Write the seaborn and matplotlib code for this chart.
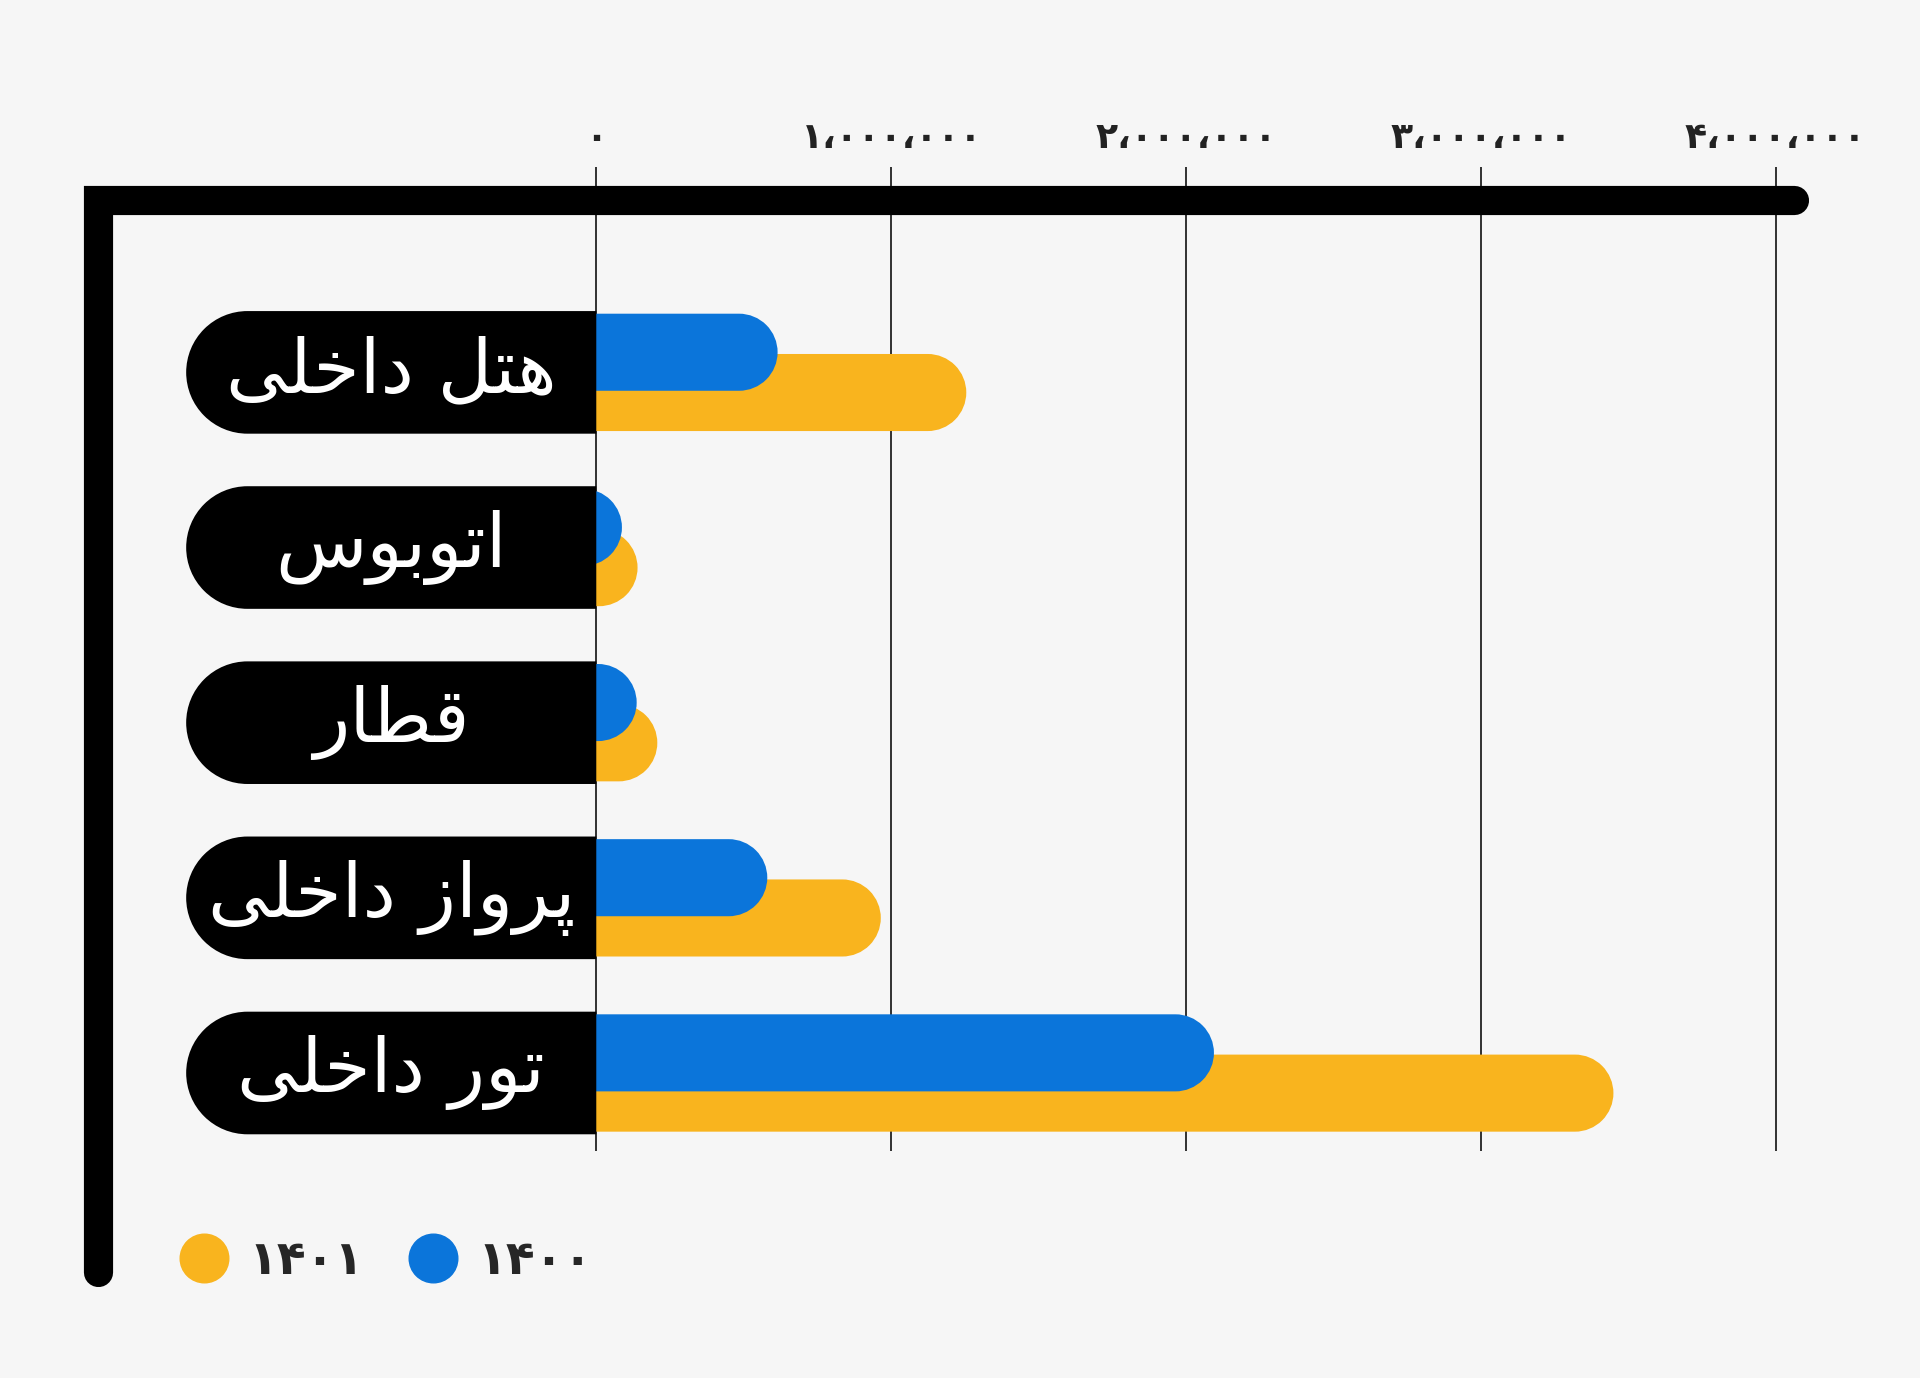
import numpy as np
import pandas as pd
import seaborn as sns
import matplotlib.pyplot as plt
from matplotlib.patches import PathPatch
from matplotlib.path import Path
from matplotlib.lines import Line2D

# DATA
categories = ['هتل داخلی', 'اتوبوس', 'قطار', 'پرواز داخلی', 'تور داخلی']
years = ['۱۴۰۰', '۱۴۰۱']
values_1400 = [615000, 87000, 137000, 580000, 2095000]
values_1401 = [1255000, 140000, 207000, 965000, 3450000]
xticks = [0, 1000000, 2000000, 3000000, 4000000]
colors = {'۱۴۰۰': '#0B75DA', '۱۴۰۱': '#F9B41E'}

df = pd.DataFrame({
    'category': categories * 2,
    'year': [years[0]] * len(categories) + [years[1]] * len(categories),
    'value': values_1400 + values_1401,
})

# matplotlib has no arabic shaping, so pick the joined glyph forms by hand
# letter -> (isolated, final, initial, medial)
FORMS = {
    'ا': ('\uFE8D', '\uFE8E', None, None),
    'ب': ('\uFE8F', '\uFE90', '\uFE91', '\uFE92'),
    'پ': ('\uFB56', '\uFB57', '\uFB58', '\uFB59'),
    'ت': ('\uFE95', '\uFE96', '\uFE97', '\uFE98'),
    'خ': ('\uFEA5', '\uFEA6', '\uFEA7', '\uFEA8'),
    'د': ('\uFEA9', '\uFEAA', None, None),
    'ر': ('\uFEAD', '\uFEAE', None, None),
    'ز': ('\uFEAF', '\uFEB0', None, None),
    'س': ('\uFEB1', '\uFEB2', '\uFEB3', '\uFEB4'),
    'ط': ('\uFEC1', '\uFEC2', '\uFEC3', '\uFEC4'),
    'ق': ('\uFED5', '\uFED6', '\uFED7', '\uFED8'),
    'ل': ('\uFEDD', '\uFEDE', '\uFEDF', '\uFEE0'),
    'ه': ('\uFEE9', '\uFEEA', '\uFEEB', '\uFEEC'),
    'و': ('\uFEED', '\uFEEE', None, None),
    'ی': ('\uFBFC', '\uFBFD', '\uFBFE', '\uFBFF'),
}


def joins_forward(c):
    return c in FORMS and FORMS[c][2] is not None


def shape(text):
    out = []
    for i, c in enumerate(text):
        if c not in FORMS:
            out.append(c)
            continue
        prev = text[i - 1] if i > 0 else ''
        nxt = text[i + 1] if i < len(text) - 1 else ''
        p = joins_forward(prev)
        q = joins_forward(c) and nxt in FORMS
        iso, fin, ini, med = FORMS[c]
        if p and q:
            out.append(med)
        elif p:
            out.append(fin)
        elif q:
            out.append(ini)
        else:
            out.append(iso)
    return ''.join(reversed(out))


FA = str.maketrans('0123456789,', '۰۱۲۳۴۵۶۷۸۹،')


def fa_number(v):
    return f'{int(v):,}'.translate(FA)


def half_capsule(x_flat, x_center, yc, h, r, side, **kw):
    # flat end at x_flat, half circle around x_center on the given side
    arc = Path.arc(-90, 90) if side == 'right' else Path.arc(90, 270)
    av = arc.vertices * [r, h / 2] + [x_center, yc]
    verts = np.vstack([[x_flat, av[0, 1]], av, [x_flat, av[-1, 1]], [x_flat, av[0, 1]]])
    codes = [Path.MOVETO, Path.LINETO] + list(arc.codes[1:]) + [Path.LINETO, Path.CLOSEPOLY]
    return PathPatch(Path(verts, codes), **kw)


# STYLE
sns.set_style('white')
bg = '#F6F6F6'
plt.rcParams['font.family'] = ['DejaVu Sans']
plt.rcParams['figure.facecolor'] = bg
plt.rcParams['axes.facecolor'] = bg

fig = plt.figure(figsize=(19.2, 13.78), dpi=100)
ax = fig.add_axes([0.0509, 0.1644, 0.8834, 0.6907])

sns.barplot(data=df, y='category', x='value', hue='year', hue_order=years,
            order=categories, palette=colors, orient='h', dodge=True,
            width=0.46, saturation=1, errorbar=None, legend=False, ax=ax)
ax.set_xlim(-1.691e6, 4.062e6)
ax.set_ylim(4.448, -0.986)

# x-units per pixel vs y-units per pixel, so the round ends come out circular
(x0p, y0p), (x1p, y1p) = ax.transData.transform([(0, 0), (1e6, 1)])
aspect = (abs(x1p - x0p) / 1e6) / abs(y1p - y0p)

# swap seaborn's rectangles for bars with a round right end
bar_h = 0.44
for container, year in zip(ax.containers, years):
    z = 3 if year == years[0] else 2
    for bar in list(container):
        yc = bar.get_y() + bar.get_height() / 2
        w = bar.get_width()
        r = bar_h / aspect / 2
        start = -3 * r  # left end hides under the label pill
        ax.add_patch(half_capsule(start, w - r, yc, bar_h, r, 'right',
                                  fc=bar.get_facecolor(), ec='none', zorder=z))
        bar.remove()

# black label pills
pill_left = -1.391e6
pill_h = 0.70
for i, cat in enumerate(categories):
    r = pill_h / aspect / 2
    ax.add_patch(half_capsule(0, pill_left + r, i, pill_h, r, 'left',
                              fc='black', ec='none', zorder=4))
    ax.text(pill_left / 2, i, shape(cat), color='white', fontsize=54,
            ha='center', va='center', zorder=5)

# axis
ax.xaxis.tick_top()
ax.set_xticks(xticks, labels=[fa_number(v) for v in xticks],
              fontsize=26, fontweight='bold', color='#222222')
ax.tick_params(axis='x', top=True, bottom=False, length=23.5, width=1.3,
               color='#222222', pad=9)
ax.set_yticks([])
ax.set_xlabel('')
ax.set_ylabel('')
ax.grid(axis='x', color='#222222', linewidth=1.3)
ax.set_axisbelow(True)
for s in ax.spines.values():
    s.set_visible(False)

# thick L frame
ax.plot([1, 0, 0], [1, 1, -0.1266], transform=ax.transAxes, color='black',
        lw=21, solid_capstyle='round', solid_joinstyle='miter',
        clip_on=False, zorder=6)

# legend
handles = [Line2D([], [], marker='o', ls='', ms=35, color=colors[y]) for y in years[::-1]]
fig.legend(handles, years[::-1], loc='center left', bbox_to_anchor=(0.094, 0.0844),
           frameon=False, ncol=2, prop={'weight': 'bold', 'size': 34},
           handlelength=1.0, handletextpad=0.45, columnspacing=0.95,
           borderpad=0, borderaxespad=0)

fig.savefig('out.png', dpi=100, facecolor=bg)
